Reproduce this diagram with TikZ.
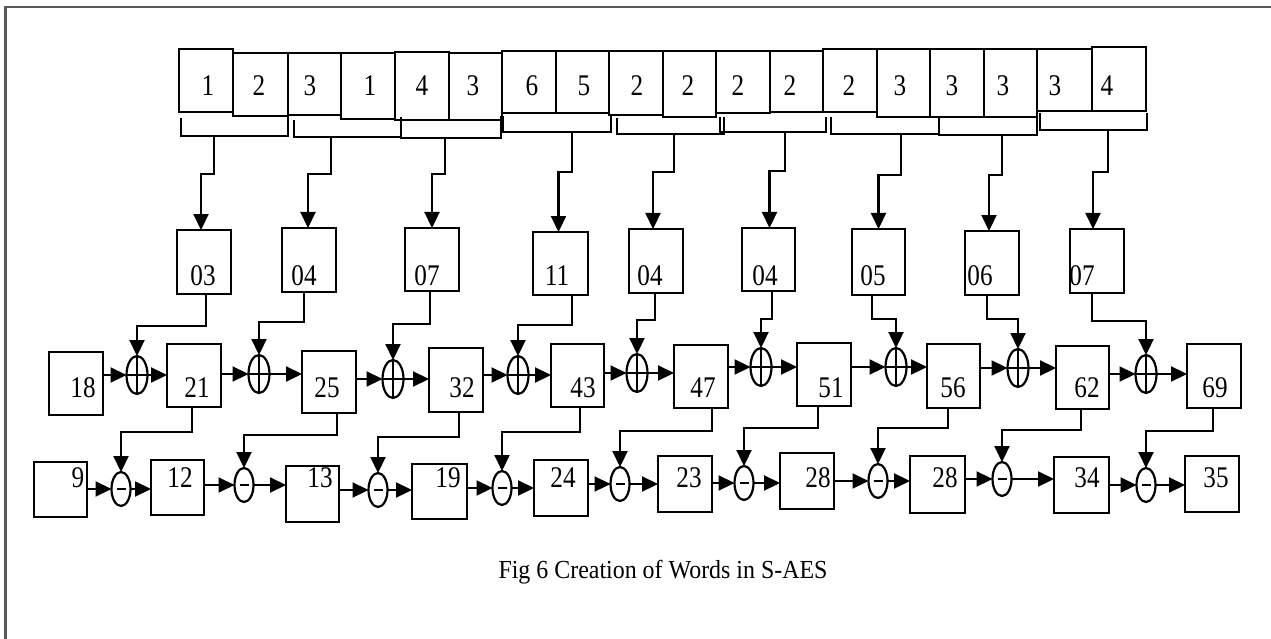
\documentclass[tikz,border=0pt]{standalone}
\usepackage{fontspec}
\setmainfont{Liberation Serif}
\usetikzlibrary{arrows.meta,shapes.geometric,fit}
\newcommand\narrowtext[1]{\scalebox{0.84}[1]{#1}}
\tikzset{
  cell/.style={draw, line width=2.2pt, inner sep=0pt, outer sep=0pt},
  digit/.style={anchor=base, inner sep=0pt, font=\fontsize{30}{30}\selectfont},
  link/.style={line width=2.2pt, -{Triangle[length=16pt,width=15pt]}},
  bar/.style={line width=2.2pt},
  xorop/.style={ellipse, draw, line width=2.2pt, minimum width=21pt, minimum height=38pt,
    inner sep=0pt, outer sep=0pt,
    path picture={\draw[line width=2pt]
      (path picture bounding box.north) -- (path picture bounding box.south)
      (path picture bounding box.west) -- (path picture bounding box.east);}},
  subop/.style={ellipse, draw, line width=2.2pt, minimum width=19pt, minimum height=34pt,
    inner sep=0pt, outer sep=0pt,
    path picture={\draw[line width=2.2pt]
      ([xshift=-4.5pt]path picture bounding box.center) --
      ([xshift=4.5pt]path picture bounding box.center);}},
}
\begin{document}
\begin{tikzpicture}[x=1pt,y=-1pt]
\useasboundingbox (0,0) rectangle (1271,639);
% page frame
\draw[line width=2.4pt, color=black!65] (1271,7) -- (5.5,7) -- (5.5,639);

% key bytes, one cell per hex digit
\foreach \i/\xa/\xb/\ya/\yb/\tx/\v in {
  1/179/233/49/112/208/1, 2/233/288/53/116/259/2, 3/288/341/53/115/310/3,
  4/341/395/53/119/370/1, 5/395/449/52/120/422/4, 6/449/502/53/120/473/3,
  7/502/556/51/113/532/6, 8/556/609/51/113/584/5, 9/609/663/51/115/637/2,
  10/663/716/51/117/688/2, 11/716/770/51/113/738/2, 12/770/823/51/112/790/2,
  13/823/877/49/112/849/2, 14/877/930/49/117/900/3, 15/930/984/49/117/952/3,
  16/984/1037/49/117/1003/3, 17/1037/1092/49/111/1055/3, 18/1092/1146/47/111/1107/4} {
  \node[cell, fit={(\xa,\ya) (\xb,\yb)}] (w\i) {};
  \node[digit] (d\i) at (\tx,96) {\narrowtext{\v}};
}

% round key values
\foreach \j/\xa/\xb/\ya/\yb/\tx/\v in {
  1/177/231/230/294/203/03, 2/282/336/228/292/304/04, 3/405/459/228/291/427/07,
  4/533/588/232/295/557/11, 5/629/683/229/293/650/04, 6/742/795/228/291/765/04,
  7/852/905/229/295/873/05, 8/965/1019/231/295/980/06, 9/1070/1124/229/293/1082/07} {
  \node[cell, fit={(\xa,\ya) (\xb,\yb)}] (k\j) {};
  \node[digit] (kt\j) at (\tx,285) {\narrowtext{\v}};
}

% brackets pairing the digits, each feeding one key value
\foreach \j/\xa/\ya/\xb/\yb/\yc/\ex/\dy/\off in {
  1/181/118/288/116/136/214/38/-3, 2/294/120/401/119/137/331/37/-1,
  3/401/117/501/116/138/445/36/0, 4/503/116/611/116/132/572/40/-2,
  5/617/118/724/117/134/674/38/-3, 6/720/117/826/117/132/785/39/1,
  7/831/117/939/117/134/901/41/0, 8/939/117/1037/115/135/1002/40/-3,
  9/1040/113/1147/113/130/1108/42/-4} {
  \draw[bar] (\xa,\ya) -- (\xa,\yc) -- (\xb,\yc) -- (\xb,\yb);
  \coordinate (b\j) at (\ex,\yc);
  \draw[link] (b\j) -- ++(0,\dy) -| ([xshift=\off pt]k\j.north);
}

% running sums
\foreach \j/\xa/\xb/\ya/\yb/\tx/\v in {
  0/49/103/352/415/83/18, 1/167/221/344/407/197/21, 2/302/356/351/413/327/25,
  3/429/483/348/412/462/32, 4/551/604/344/407/583/43, 5/674/728/345/408/703/47,
  6/797/851/343/406/831/51, 7/927/980/344/408/953/56, 8/1056/1109/346/409/1087/62,
  9/1187/1241/344/408/1215/69} {
  \node[cell, fit={(\xa,\ya) (\xb,\yb)}] (s\j) {};
  \node[digit] (st\j) at (\tx,397) {\narrowtext{\v}};
}

% differences
\foreach \j/\xa/\xb/\ya/\yb/\tx/\v in {
  0/34/87/462/517/78/9, 1/151/204/460/515/180/12, 2/286/339/466/522/320/13,
  3/412/467/464/519/448/19, 4/534/588/460/516/563/24, 5/658/712/456/512/689/23,
  6/780/834/453/509/818/28, 7/910/965/456/513/945/28, 8/1054/1109/457/513/1087/34,
  9/1185/1239/456/512/1216/35} {
  \node[cell, fit={(\xa,\ya) (\xb,\yb)}] (t\j) {};
  \node[digit] (tt\j) at (\tx,487) {\narrowtext{\v}};
}

% adders
\foreach \j/\x/\y in {1/137/375, 2/259/374, 3/393/379, 4/518/375, 5/637/373,
  6/761/367, 7/896/367, 8/1018/368, 9/1146/374}
  \node[xorop] (p\j) at (\x,\y) {};

% subtractors
\foreach \j/\x/\y in {1/121/489, 2/244/485, 3/378/490, 4/502/488, 5/620/484,
  6/744/483, 7/878/481, 8/1002/479, 9/1146/485}
  \node[subop] (m\j) at (\x,\y) {};

% key value into adder
\foreach \j/\off/\dy in {1/2/32, 2/-5/30, 3/-2/33, 4/11.5/30, 5/-1/27,
  6/3.5/28, 7/-6.5/24, 8/-5/24, 9/-5/28}
  \draw[link] ([xshift=\off pt]k\j.south) -- ++(0,\dy) -| (p\j.north);

% sum into subtractor
\foreach \j/\off/\dy in {1/-2/25, 2/8/22, 3/3/25, 4/2.5/25, 5/11/23,
  6/-6/22, 7/-5.5/20, 8/-1.5/21, 9/-1/23}
  \draw[link] ([xshift=\off pt]s\j.south) -- ++(0,\dy) -| (m\j.north);

% horizontal chains
\foreach \i [evaluate=\i as \h using int(\i-1)] in {1,...,9} {
  \draw[link] (s\h.east |- p\i.center) -- (p\i.west);
  \draw[link] (p\i.east) -- (s\i.west |- p\i.center);
  \draw[link] (t\h.east |- m\i.center) -- (m\i.west);
  \draw[link] (m\i.east) -- (t\i.west |- m\i.center);
}

\node[anchor=base, inner sep=0pt, font=\fontsize{26}{26}\selectfont] (cap) at (663,578)
  {\scalebox{0.92}[1]{Fig 6 Creation of Words in S-AES}};
\end{tikzpicture}
\end{document}
